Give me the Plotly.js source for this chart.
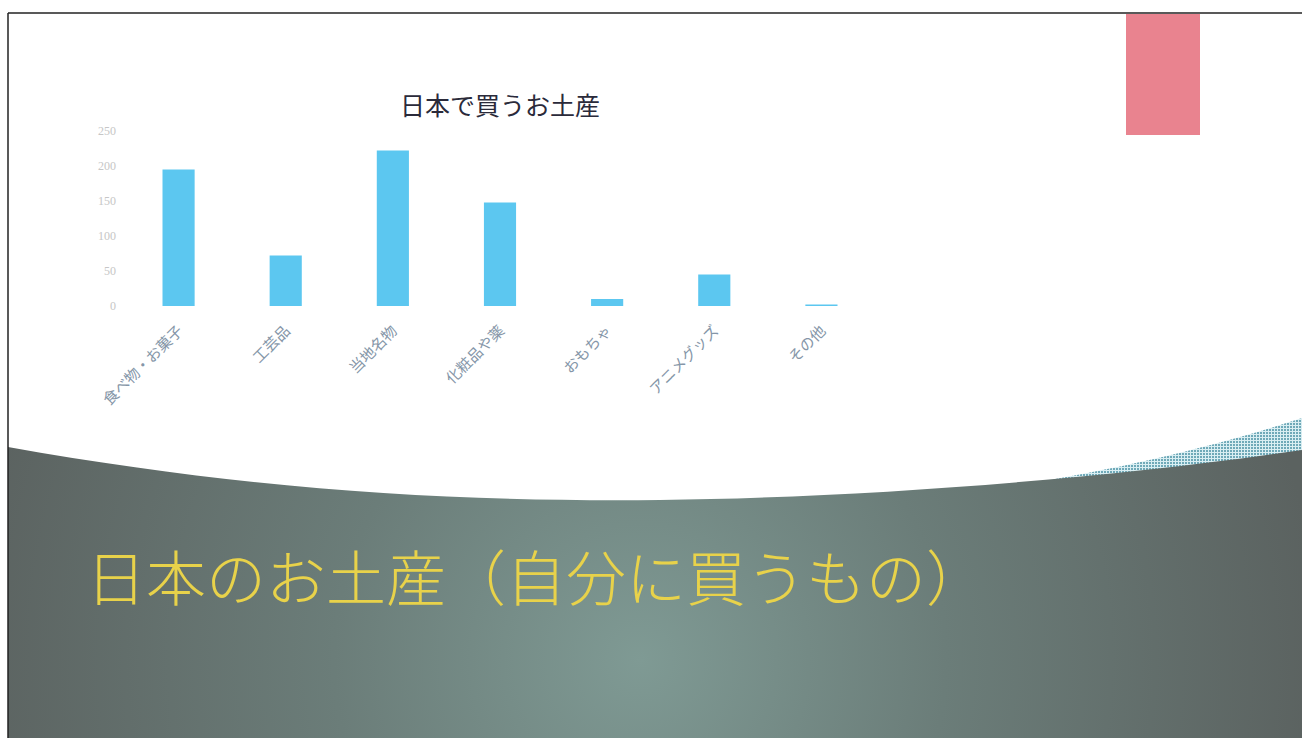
<!DOCTYPE html>
<html>
<head>
<meta charset="utf-8">
<script src="https://cdn.plot.ly/plotly-3.0.1.min.js"></script>
<style>
  html, body { margin: 0; padding: 0; width: 1302px; height: 738px; overflow: hidden; background: #fff; }
  #bg { position: absolute; left: 0; top: 0; }
  #chart { position: absolute; left: 0; top: 0; width: 1302px; height: 738px; }
</style>
</head>
<body>
<svg id="bg" width="1302" height="738" xmlns="http://www.w3.org/2000/svg">
  <defs>
    <radialGradient id="g1" cx="640" cy="660" r="680" gradientUnits="userSpaceOnUse">
      <stop offset="0" stop-color="#7f9a94"/>
      <stop offset="0.45" stop-color="#6b7d79"/>
      <stop offset="1" stop-color="#5b6260"/>
    </radialGradient>
    <pattern id="dots" width="3" height="3" patternUnits="userSpaceOnUse">
      <rect width="3" height="3" fill="#d9eef2"/>
      <rect width="2" height="2" fill="#6fa9b8"/>
    </pattern>
  </defs>
  <rect x="0" y="0" width="1302" height="738" fill="#ffffff"/>
  <path d="M1000,488 C1120,470 1220,445 1302,418 L1302,452 C1200,470 1100,482 1000,488 Z" fill="url(#dots)"/>
  <path d="M8,447 C250,490 450,502 660,500 C850,498 1100,480 1302,450 L1302,738 L8,738 Z" fill="url(#g1)"/>
  <rect x="1126" y="14" width="74" height="121" fill="#e9838f"/>
  <line x1="8" y1="13" x2="1302" y2="13" stroke="#222" stroke-width="1.5"/>
  <line x1="8" y1="13" x2="8" y2="738" stroke="#222" stroke-width="1.5"/>
</svg>
<div id="chart"></div>
<script>
const categories = ["食べ物・お菓子", "工芸品", "当地名物", "化粧品や薬", "おもちゃ", "アニメグッズ", "その他"];
const values = [195, 72, 222, 148, 10, 45, 2];
const yTickValues = [0, 50, 100, 150, 200, 250];
const yTickLabels = ["0", "50", "100", "150", "200", "250"];
const chartTitle = "日本で買うお土産";
const slideTitle = "日本のお土産（自分に買うもの）";

const trace = {
  type: "bar",
  x: categories,
  y: values,
  marker: { color: "#5cc7f0" },
  hoverinfo: "x+y"
};

const layout = {
  width: 1302,
  height: 738,
  margin: { l: 125, r: 427, t: 131, b: 432 },
  paper_bgcolor: "rgba(0,0,0,0)",
  plot_bgcolor: "rgba(0,0,0,0)",
  bargap: 0.7,
  showlegend: false,
  title: {
    text: chartTitle,
    x: 500 / 1302, xanchor: "center", xref: "container",
    y: 1 - 106 / 738, yanchor: "middle", yref: "container",
    font: { family: "Noto Sans CJK JP, sans-serif", size: 25, color: "#2a2a3a" }
  },
  xaxis: {
    type: "category",
    tickangle: -45,
    ticklabelstandoff: 12,
    showgrid: false, zeroline: false, showline: false, ticks: "",
    tickfont: { family: "Noto Sans CJK JP, sans-serif", size: 15, color: "#8596a8" }
  },
  yaxis: {
    range: [0, 250],
    tickvals: yTickValues,
    ticktext: yTickLabels,
    ticklabelstandoff: 8,
    showgrid: false, zeroline: false, showline: false, ticks: "",
    tickfont: { family: "Liberation Serif, serif", size: 12, color: "#c6c6c6" }
  },
  annotations: [{
    text: slideTitle,
    xref: "paper", yref: "paper",
    x: (84 - 125) / 750, xanchor: "left",
    y: (306 - 574) / 175, yanchor: "middle",
    showarrow: false,
    font: { family: "Noto Sans CJK JP, sans-serif", size: 60, color: "#e8d24a", weight: 300 }
  }]
};

Plotly.newPlot("chart", [trace], layout, { displayModeBar: false, staticPlot: true });
</script>
</body>
</html>
